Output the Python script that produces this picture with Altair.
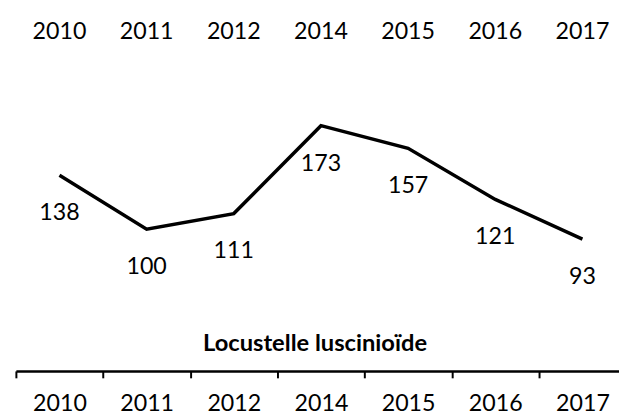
import altair as alt
import pandas as pd

years = ["2010", "2011", "2012", "2014", "2015", "2016", "2017"]
values = [138, 100, 111, 173, 157, 121, 93]
title_text = "Locustelle luscinioïde"

df = pd.DataFrame({"year": years, "value": values})

FONT = "Lato"
FS = 23.5
STEP = 88.3
W = 611
H = 359

xscale = alt.Scale(type="band", domain=years, range=[0, STEP * len(years)],
                   paddingInner=0, paddingOuter=0)
yscale = alt.Scale(domain=[0, 250], nice=False, zero=True)

base = alt.Chart(df)

line = base.mark_line(color="black", strokeWidth=3.5, clip=False).encode(
    x=alt.X("year:N", sort=years, scale=xscale,
            axis=alt.Axis(orient="bottom", title=None, labelAngle=0,
                          tickBand="extent", domainColor="black", domainWidth=2.5,
                          tickColor="black", tickWidth=2, tickSize=7,
                          labelFont=FONT, labelFontSize=FS, labelColor="black",
                          labelBaseline="middle", labelPadding=26, grid=False)),
    y=alt.Y("value:Q", scale=yscale, axis=None),
)

labels = base.mark_text(font=FONT, fontSize=FS, color="black", dy=38.5,
                        baseline="middle").encode(
    x=alt.X("year:N", sort=years, scale=xscale,
            axis=alt.Axis(orient="top", title=None, labelAngle=0,
                          ticks=False, domain=False, grid=False,
                          labelFont=FONT, labelFontSize=FS, labelColor="black",
                          labelBaseline="middle", labelPadding=-15)),
    y=alt.Y("value:Q", scale=yscale, axis=None),
    text=alt.Text("value:Q"),
)

chart = alt.layer(line, labels).resolve_axis(x="independent").properties(
    width=W, height=H,
    autosize=alt.AutoSizeParams(type="none"),
    padding={"left": 8, "top": 6, "right": 0, "bottom": 43},
    title=alt.TitleParams(title_text, orient="top", anchor="middle", frame="group",
                          font=FONT, fontSize=24, fontWeight="bold", color="black",
                          dy=367, dx=-2.5, baseline="alphabetic"),
).configure_view(stroke=None)

chart.save("out.html", embed_options={"renderer": "svg", "actions": False})
